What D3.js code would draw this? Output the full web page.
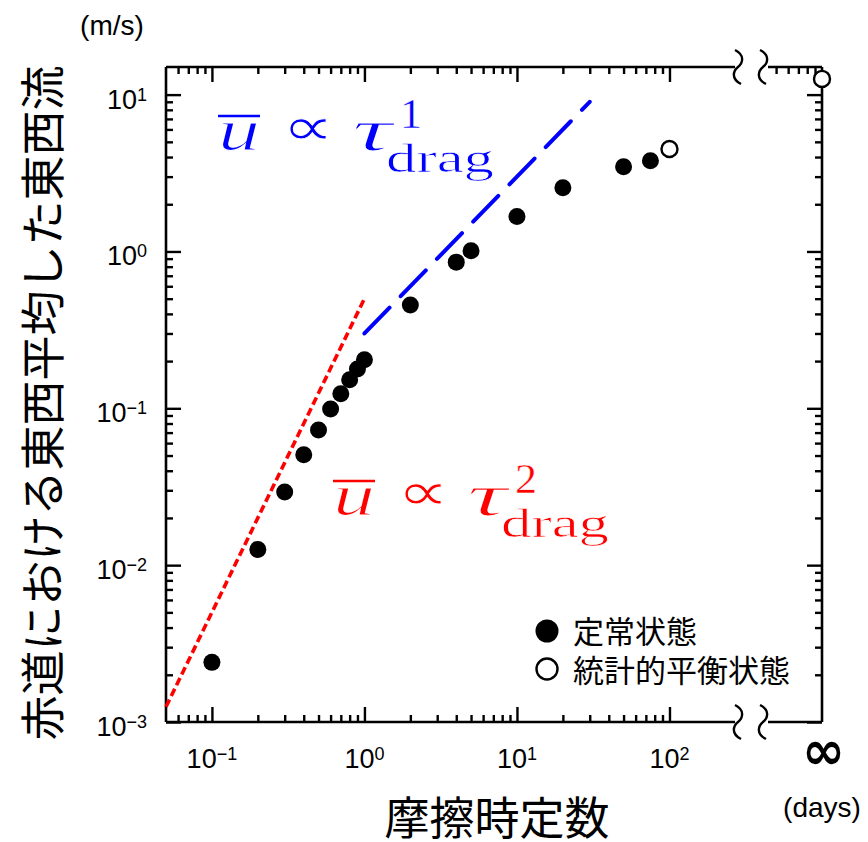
<!DOCTYPE html>
<html>
<head>
<meta charset="utf-8">
<script src="https://cdn.jsdelivr.net/npm/d3@7"></script>
<style>
  html, body { margin: 0; padding: 0; background: #fff; }
  svg { display: block; }
</style>
</head>
<body>
<svg id="chart" width="868" height="842"></svg>
<script>
// Steady-state runs: drag time scale (days) and equatorial zonal-mean wind (m/s)
const tauSteady = [0.1, 0.2, 0.3, 0.4, 0.5, 0.6, 0.7, 0.8, 0.9, 1, 2, 4, 5, 10, 20, 50, 75];
const uSteady   = [0.0024, 0.0126, 0.0293, 0.0505, 0.0728, 0.099, 0.124, 0.152, 0.178, 0.204,
                   0.456, 0.855, 1.01, 1.67, 2.55, 3.47, 3.79];
// Statistically equilibrated runs (Infinity = no drag, drawn on the right edge)
const tauEquil = [100, Infinity];
const uEquil   = [4.5, 12.6];

// Reference power laws: u = coef * tau^power over [from, to]
const fitQuadratic = { coef: 0.5, power: 2, from: 0.05, to: 1 };
const fitLinear    = { coef: 0.3, power: 1, from: 1, to: 30 };

// Tick values
const xMajor = [0.1, 1, 10, 100];
const xMajorLabels = ["\u22121", "0", "1", "2"];
const xMinorBottom = [0.06, 0.07, 0.08, 0.09, 0.2, 0.3, 0.4, 0.5, 0.6, 0.7, 0.8, 0.9,
                      2, 3, 4, 5, 6, 7, 8, 9, 20, 30, 40, 50, 60, 70, 80, 90];
const xMinorTopExtra = [500, 600, 700, 800, 900];
const yMajor = [0.001, 0.01, 0.1, 1, 10];
const yMajorLabels = ["\u22123", "\u22122", "\u22121", "0", "1"];
const yMinor = [];
[0.001, 0.01, 0.1, 1].forEach(d => { for (let k = 2; k <= 9; k++) yMinor.push(+(d * k).toPrecision(3)); });

const svg = d3.select("#chart");
const L = 166, R = 822, T = 67, B = 722;
const breakL = 735, breakR = 768;

const x = d3.scaleLog().domain([0.05, 1000]).range([L, R]);
const y = d3.scaleLog().domain([0.001, 15]).range([B, T]);
const px = t => isFinite(t) ? x(t) : R;

const AX = "#000";
const majorLen = 15, minorLen = 7;

// Frame lines (top and bottom are broken before the "infinity" segment)
const frame = svg.append("g").attr("stroke", AX).attr("stroke-width", 2.6).attr("fill", "none");
[[L, T, L, B], [R, T, R, B], [L, T, breakL, T], [breakR, T, R, T], [L, B, breakL, B], [breakR, B, R, B]]
  .forEach(([x1, y1, x2, y2]) => frame.append("line").attr("x1", x1).attr("y1", y1).attr("x2", x2).attr("y2", y2));

// Axis-break squiggles
function squiggle(cx, cy) {
  return `M${cx - 3},${cy - 17} C${cx + 7},${cy - 12} ${cx + 5},${cy - 4} ${cx},${cy} S${cx - 7},${cy + 12} ${cx + 3},${cy + 17}`;
}
[[738, T], [763, T], [738, B], [763, B]].forEach(([cx, cy]) =>
  svg.append("path").attr("d", squiggle(cx, cy)).attr("fill", "none").attr("stroke", AX).attr("stroke-width", 2.4));

// Inward-pointing ticks drawn with d3 axes
function ticks(axisFn, scale, values, len, transform) {
  const g = svg.append("g").attr("transform", transform)
    .call(axisFn(scale).tickValues(values).tickSize(len).tickSizeOuter(0).tickFormat(""));
  g.select(".domain").remove();
  g.selectAll(".tick line").attr("stroke", AX).attr("stroke-width", 2.4);
  return g;
}
ticks(d3.axisTop, x, xMajor, majorLen, `translate(0,${B})`);
ticks(d3.axisTop, x, xMinorBottom, minorLen, `translate(0,${B})`);
ticks(d3.axisBottom, x, xMajor, majorLen, `translate(0,${T})`);
ticks(d3.axisBottom, x, xMinorBottom.concat(xMinorTopExtra), minorLen, `translate(0,${T})`);
ticks(d3.axisRight, y, yMajor, majorLen, `translate(${L},0)`);
ticks(d3.axisRight, y, yMinor, minorLen, `translate(${L},0)`);
ticks(d3.axisLeft, y, yMajor, majorLen, `translate(${R},0)`);
ticks(d3.axisLeft, y, yMinor, minorLen, `translate(${R},0)`);

// Tick labels: 10 with superscript exponent
const sans = "'Liberation Sans', Arial, Helvetica, sans-serif";
function powLabel(sel, exp) {
  sel.append("tspan").text("10");
  sel.append("tspan").attr("dy", -8).attr("font-size", 18).text(exp);
}
yMajor.forEach((v, i) => {
  const t = svg.append("text").attr("x", 147).attr("y", y(v) + 14)
    .attr("text-anchor", "end").attr("font-family", sans).attr("font-size", 27).attr("fill", AX);
  powLabel(t, yMajorLabels[i]);
});
xMajor.forEach((v, i) => {
  const t = svg.append("text").attr("x", x(v)).attr("y", 768)
    .attr("text-anchor", "middle").attr("font-family", sans).attr("font-size", 27).attr("fill", AX);
  powLabel(t, xMajorLabels[i]);
});

// Infinity label and units
svg.append("text").attr("x", 802).attr("y", 769)
  .attr("font-family", "'DejaVu Sans', sans-serif").attr("font-weight", "bold").attr("font-size", 54)
  .attr("textLength", 43).attr("lengthAdjust", "spacingAndGlyphs")
  .attr("fill", AX).text("\u221E");
svg.append("text").attr("x", 822).attr("y", 817).attr("text-anchor", "middle")
  .attr("font-family", sans).attr("font-size", 28).attr("fill", AX).text("(days)");
svg.append("text").attr("x", 112).attr("y", 35).attr("text-anchor", "middle")
  .attr("font-family", sans).attr("font-size", 28).attr("fill", AX).text("(m/s)");

// Axis titles
const cjk = "'Noto Sans CJK JP', 'Noto Sans CJK SC', sans-serif";
svg.append("text").attr("transform", "translate(40,403) rotate(-90)")
  .attr("text-anchor", "middle").attr("dominant-baseline", "central")
  .attr("font-family", cjk).attr("font-size", 45).attr("fill", AX)
  .text("赤道における東西平均した東西流");
svg.append("text").attr("x", 497).attr("y", 815)
  .attr("text-anchor", "middle").attr("dominant-baseline", "central")
  .attr("font-family", cjk).attr("font-size", 45).attr("fill", AX)
  .text("摩擦時定数");

// Power-law reference lines
const line = d3.line().x(d => x(d[0])).y(d => y(d[1]));
const fitPts = f => [f.from, f.to].map(t => [t, f.coef * Math.pow(t, f.power)]);
svg.append("path").attr("d", line(fitPts(fitQuadratic)))
  .attr("fill", "none").attr("stroke", "#ff0000").attr("stroke-width", 3.6).attr("stroke-dasharray", "8,4");
svg.append("path").attr("d", line(fitPts(fitLinear)))
  .attr("fill", "none").attr("stroke", "#0000ff").attr("stroke-width", 4)
  .attr("stroke-linecap", "round").attr("stroke-dasharray", "36,16");

// Data points
svg.append("g").selectAll("circle").data(d3.zip(tauSteady, uSteady)).join("circle")
  .attr("cx", d => px(d[0])).attr("cy", d => y(d[1])).attr("r", 8.5).attr("fill", AX);
svg.append("g").selectAll("circle").data(d3.zip(tauEquil, uEquil)).join("circle")
  .attr("cx", d => px(d[0])).attr("cy", d => y(d[1])).attr("r", 8)
  .attr("fill", "#fff").attr("stroke", AX).attr("stroke-width", 2.4);

// Power-law annotations (glyphs slimmed with a thin white outline)
const serif = "'Liberation Serif', 'DejaVu Serif', serif";
function law(color, ox, oy, exponent) {
  const g = svg.append("g").attr("fill", color).attr("font-family", serif).attr("stroke", "#fff");
  g.append("text").attr("x", ox).attr("y", oy).attr("font-size", 60).attr("font-style", "italic")
    .attr("stroke-width", 1.2)
    .attr("textLength", 42).attr("lengthAdjust", "spacingAndGlyphs").text("u");
  g.append("line").attr("x1", ox).attr("x2", ox + 42).attr("y1", oy - 34).attr("y2", oy - 34)
    .attr("stroke", color).attr("stroke-width", 2.6);
  g.append("text").attr("x", ox + 134).attr("y", oy).attr("font-size", 60).attr("font-style", "italic")
    .attr("stroke-width", 1.2)
    .attr("textLength", 40).attr("lengthAdjust", "spacingAndGlyphs").text("\u03C4");
  g.append("text").attr("transform", `translate(${ox + 64},${oy - 5}) scale(1.35,1)`)
    .attr("font-family", "'DejaVu Sans', sans-serif").attr("font-size", 54)
    .attr("stroke-width", 0.9).text("\u221D");
  g.append("text").attr("x", ox + 182).attr("y", oy - 22).attr("font-size", 42)
    .attr("stroke-width", 0.4)
    .attr("textLength", 22).attr("lengthAdjust", "spacingAndGlyphs").text(exponent);
  g.append("text").attr("x", ox + 168).attr("y", oy + 22).attr("font-size", 40)
    .attr("stroke-width", 0.7)
    .attr("textLength", 108).attr("lengthAdjust", "spacingAndGlyphs").text("drag");
}
law("#0000ff", 218, 150, "1");
law("#ff0000", 333, 515, "2");

// Legend
const leg = svg.append("g").attr("font-family", cjk).attr("font-size", 31).attr("fill", AX);
leg.append("circle").attr("cx", 547).attr("cy", 631).attr("r", 11.5).attr("fill", AX);
leg.append("text").attr("x", 573).attr("y", 629).attr("dominant-baseline", "central").text("定常状態");
leg.append("circle").attr("cx", 547).attr("cy", 669).attr("r", 10.5)
  .attr("fill", "#fff").attr("stroke", AX).attr("stroke-width", 2.4);
leg.append("text").attr("x", 573).attr("y", 668).attr("dominant-baseline", "central").text("統計的平衡状態");
</script>
</body>
</html>
